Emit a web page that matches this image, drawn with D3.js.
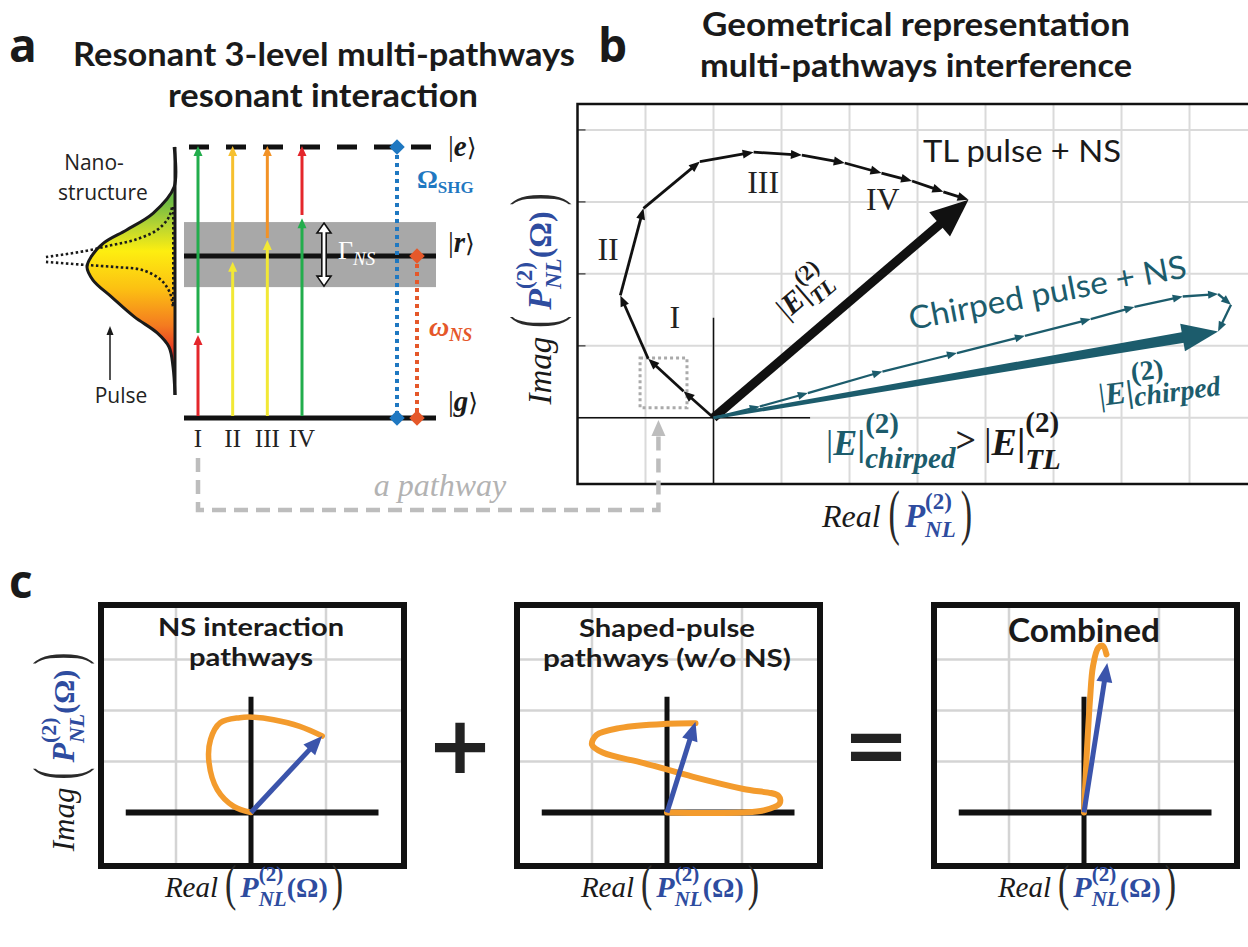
<!DOCTYPE html>
<html><head><meta charset="utf-8">
<script src="https://cdn.jsdelivr.net/npm/d3@7"></script>
<style>body{margin:0;background:#fff}svg{display:block}</style>
</head><body>
<svg id="fig" width="1248" height="947"></svg>
<script>
// ---------------- data ----------------
// panel a: energy levels (normalised energy, |g> = 0, |e> = 1)
const levelNames = ["g", "r", "e"];
const levelEnergy = [0, 0.598, 1];
const bandEnergy = [0.483, 0.723];          // NS linewidth band around |r>
const pathwayLabels = ["I", "II", "III", "IV"];
const firstPhotonTop = [0.306, 0.577, 0.657, 0.737];
const secondPhotonStart = [0.314, 0.614, 0.664, 0.749];
const firstPhotonColor = ["#e4262b", "#f2e835", "#f2e835", "#22ad4c"];
const secondPhotonColor = ["#22ad4c", "#f6c02f", "#f29226", "#e4262b"];
// pulse spectrum (amplitude, energy) and nanostructure response
const pulseAmp = [0.01, 0.01, 0.244, 0.544, 0.80, 0.944, 0.989, 0.922, 0.711, 0.456, 0.20, 0.067, 0.022, 0.0];
const pulseE   = [1.0, 0.852, 0.756, 0.694, 0.646, 0.594, 0.557, 0.509, 0.446, 0.373, 0.314, 0.262, 0.188, 0.085];
const nsUpperAmp = [1.45, 1.011, 0.711, 0.456, 0.20, 0.067, 0.033];
const nsUpperE   = [0.594, 0.616, 0.638, 0.657, 0.694, 0.742, 0.779];
const nsLowerAmp = [1.45, 1.011, 0.667, 0.367, 0.156, 0.056, 0.022];
const nsLowerE   = [0.576, 0.565, 0.557, 0.546, 0.509, 0.461, 0.41];

// panel b: cumulative pathway sums in the complex plane (Re, Im)
const tlRe = [0, -0.44, -0.96, -1.37, -1.03, -0.20, 0.59, 1.30, 1.93, 2.47, 2.92, 3.38, 3.75];
const tlIm = [0, 0.37, 0.82, 1.70, 2.91, 3.56, 3.69, 3.65, 3.54, 3.40, 3.29, 3.14, 3.03];
const chRe = [0, 0.68, 1.387, 2.484, 3.58, 4.58, 5.547, 6.19, 6.90, 7.42, 7.61, 7.42];
const chIm = [0, 0.157, 0.343, 0.643, 0.899, 1.139, 1.371, 1.54, 1.685, 1.72, 1.57, 1.20];
const romanRe = [-0.57, -1.55, 0.73, 2.49];
const romanIm = [1.25, 2.19, 3.125, 2.89];

// panel c: pathway traces
const nsRe = [0, -0.23, -0.45, -0.56, -0.54, -0.41, -0.15, 0.02, 0.30, 0.65, 0.95];
const nsIm = [0, 0.12, 0.45, 0.98, 1.43, 1.76, 1.86, 1.87, 1.82, 1.69, 1.50];
const shRe = [0, 0.58, 1.0, 1.29, 1.50, 1.49, 1.02, 0.35, -0.31, -0.85, -1.0, -0.94, -0.62, 0, 0.38];
const shIm = [0, -0.01, 0.0, 0.04, 0.17, 0.32, 0.46, 0.70, 0.97, 1.17, 1.33, 1.52, 1.66, 1.74, 1.75];
const coRe = [0, 0.035, 0.08, 0.12, 0.19, 0.25, 0.30];
const coIm = [0, 1.1, 2.21, 2.87, 3.23, 3.27, 3.10];
const nsSum = [0.95, 1.50], shSum = [0.38, 1.78], coSum = [0.31, 2.93];
const cTitles = [["NS interaction", "pathways"], ["Shaped-pulse", "pathways (w/o NS)"], ["Combined"]];

// ---------------- helpers ----------------
const svg = d3.select("#fig");
svg.append("rect").attr("width", 1248).attr("height", 947).attr("fill", "#fff");
const SERIF = "'Liberation Serif','DejaVu Serif',serif";
const SANS = "Lato,'Open Sans','DejaVu Sans',sans-serif";
const BLUE = "#2e4c9f", TEAL = "#1c5c6c", INK = "#1a1a1a";

function head(g, x1, y1, x2, y2, len, wid, color) {
  const a = Math.atan2(y2 - y1, x2 - x1), c = Math.cos(a), s = Math.sin(a);
  const bx = x2 - len * c, by = y2 - len * s;
  g.append("path")
    .attr("d", `M${x2},${y2}L${bx - s * wid / 2},${by + c * wid / 2}L${bx + s * wid / 2},${by - c * wid / 2}Z`)
    .attr("fill", color);
}
function arrow(g, x1, y1, x2, y2, o) {
  const a = Math.atan2(y2 - y1, x2 - x1);
  const ex = x2 - Math.cos(a) * o.len * 0.8, ey = y2 - Math.sin(a) * o.len * 0.8;
  g.append("line").attr("x1", x1).attr("y1", y1).attr("x2", ex).attr("y2", ey)
    .attr("stroke", o.color).attr("stroke-width", o.w);
  head(g, x1, y1, x2, y2, o.len, o.wid, o.color);
}
// lay out a run of math-like text pieces, with stacked super/subscripts
function mathRun(parent, items, o) {
  const g = parent.append("g");
  const inner = g.append("g");
  let x = 0;
  const mk = (t, xx, yy, fs, it) => {
    const e = inner.append("text")
      .attr("font-family", it.fam || SERIF).attr("font-size", fs)
      .attr("font-style", it.it ? "italic" : "normal").attr("font-weight", it.b ? "bold" : "normal")
      .attr("fill", it.fill || INK).text(t);
    if (it.sy) e.attr("x", 0).attr("y", 0).attr("transform", `translate(${xx},${yy}) scale(1,${it.sy})`);
    else e.attr("x", xx).attr("y", yy);
    return e;
  };
  items.forEach(it => {
    if (it.gap) { x += it.gap; return; }
    const fs = it.fs, dy = it.dy || 0;
    const t = mk(it.t, x, dy, fs, it);
    x += t.node().getComputedTextLength() + (it.after || 0);
    if (it.sup || it.sub) {
      const sfs = it.sfs || fs * 0.65;
      let w = 0;
      if (it.sup) { const s = mk(it.sup, x + (it.supdx || 0), dy - fs * (it.up || 0.48), sfs, Object.assign({}, it, { it: false, sy: 0 })); w = Math.max(w, s.node().getComputedTextLength() + (it.supdx || 0)); }
      if (it.sub) { const s = mk(it.sub, x, dy + fs * (it.down || 0.3), sfs, Object.assign({}, it, { it: it.subIt === undefined ? true : it.subIt, sy: 0 })); w = Math.max(w, s.node().getComputedTextLength()); }
      x += w + (it.after2 || 0);
    }
  });
  if (o.anchor === "middle") inner.attr("transform", `translate(${-x / 2},0)`);
  g.attr("transform", `translate(${o.x},${o.y})` + (o.rotate ? ` rotate(${o.rotate})` : ""));
  return g;
}
function label(parent, txt, x, y, o) {
  const t = parent.append("text").attr("x", x).attr("y", y).text(txt)
    .attr("font-family", o.fam || SANS).attr("font-size", o.fs)
    .attr("font-weight", o.b ? "bold" : "normal").attr("font-style", o.it ? "italic" : "normal")
    .attr("fill", o.fill || INK).attr("text-anchor", o.anchor || "start");
  if (o.len) t.attr("textLength", o.len).attr("lengthAdjust", "spacingAndGlyphs");
  if (o.rotate) t.attr("transform", `rotate(${o.rotate},${x},${y})`);
  return t;
}
// tall, thin brackets around the axis quantities
const paren = (t, fs, sy, dy) => ({ t, fs: fs || 36, sy: sy || 1.9, dy: dy === undefined ? 6 : dy, fill: "#2a2a2a" });

// ---------------- panel letters and titles ----------------
label(svg, "a", 9, 62, { fs: 46, b: true, fam: "'Open Sans',sans-serif" });
label(svg, "b", 598, 62, { fs: 46, b: true, fam: "'Open Sans',sans-serif" });
label(svg, "c", 9, 598, { fs: 46, b: true, fam: "'Open Sans',sans-serif" });
label(svg, "Resonant 3-level multi-pathways", 324, 66, { fs: 32, b: true, anchor: "middle", len: 502 });
label(svg, "resonant interaction", 323, 107, { fs: 32, b: true, anchor: "middle", len: 310 });
label(svg, "Geometrical representation", 916, 36, { fs: 32, b: true, anchor: "middle", len: 428 });
label(svg, "multi-pathways interference", 916, 77, { fs: 32, b: true, anchor: "middle", len: 432 });

// ---------------- panel a: level diagram ----------------
const ga = svg.append("g");
const yE = d3.scaleLinear().domain([0, 1]).range([418, 147]);
const xLev = d3.scaleLinear().domain([0, 1]).range([184, 436]);
const xPath = d3.scaleLinear().domain([0, 3]).range([198, 302]);
const xAmp = d3.scaleLinear().domain([0, 1]).range([175, 86]);

// pulse spectrum with colour gradient
const grad = svg.append("defs").append("linearGradient").attr("id", "pulseGrad")
  .attr("x1", 0).attr("y1", 0).attr("x2", 0).attr("y2", 1);
[["0%", "#3fa847"], ["22%", "#6fbb44"], ["32%", "#b9d531"], ["42%", "#fdee10"], ["57%", "#fcc112"], ["72%", "#f47b20"], ["84%", "#e52a24"], ["100%", "#e31e24"]]
  .forEach(s => grad.append("stop").attr("offset", s[0]).attr("stop-color", s[1]));
const pulsePts = pulseAmp.map((a, i) => [xAmp(a), yE(pulseE[i])]);
const pulseLine = d3.line().curve(d3.curveCatmullRom.alpha(0.5));
ga.append("path").attr("d", pulseLine(pulsePts) + "Z").attr("fill", "url(#pulseGrad)");
ga.append("path").attr("d", pulseLine(pulsePts)).attr("fill", "none").attr("stroke", INK).attr("stroke-width", 3);
ga.append("line").attr("x1", xAmp(0)).attr("x2", xAmp(0)).attr("y1", yE(1)).attr("y2", yE(0.085))
  .attr("stroke", INK).attr("stroke-width", 3);
[[nsUpperAmp, nsUpperE], [nsLowerAmp, nsLowerE]].forEach(([A, E]) => {
  ga.append("path").attr("d", pulseLine(A.map((a, i) => [xAmp(a), yE(E[i])])))
    .attr("fill", "none").attr("stroke", INK).attr("stroke-width", 2.6).attr("stroke-dasharray", "2.5,2.5");
});
ga.append("line").attr("x1", 173).attr("x2", 173).attr("y1", yE(0.779)).attr("y2", yE(0.41))
  .attr("stroke", INK).attr("stroke-width", 2).attr("stroke-dasharray", "2.5,2.5");
label(ga, "Nano-", 94, 170, { fs: 21, anchor: "middle", fam: "'Open Sans',sans-serif", fill: "#222" });
label(ga, "structure", 103, 200, { fs: 21, anchor: "middle", fam: "'Open Sans',sans-serif", fill: "#222" });
label(ga, "Pulse", 121, 403, { fs: 21, anchor: "middle", fam: "'Open Sans',sans-serif", fill: "#222" });
arrow(ga, 110, 380, 110, 326, { len: 9, wid: 7, w: 1.5, color: INK });

// band and levels
ga.append("rect").attr("x", xLev(0)).attr("width", xLev(1) - xLev(0))
  .attr("y", yE(bandEnergy[1])).attr("height", yE(bandEnergy[0]) - yE(bandEnergy[1])).attr("fill", "#a8a8a8");
levelNames.forEach((n, i) => {
  const l = ga.append("line").attr("x1", xLev(0)).attr("x2", xLev(1)).attr("y1", yE(levelEnergy[i])).attr("y2", yE(levelEnergy[i]))
    .attr("stroke", "#111").attr("stroke-width", 5);
  if (n === "e") l.attr("x1", 189).attr("stroke-dasharray", "20,17");
});
// two-photon pathways
pathwayLabels.forEach((p, i) => {
  const x = xPath(i);
  arrow(ga, x, yE(0) - 2, x, yE(firstPhotonTop[i]), { len: 10, wid: 9, w: 3, color: firstPhotonColor[i] });
  arrow(ga, x, yE(secondPhotonStart[i]), x, yE(1) - 1, { len: 10, wid: 9, w: 3, color: secondPhotonColor[i] });
  label(ga, p, x, 447, { fs: 25, fam: SERIF, anchor: "middle", fill: "#222" });
});
// linewidth double arrow
(function () {
  const x = 324, y1 = yE(bandEnergy[1]) + 1, y2 = yE(bandEnergy[0]) - 1, hw = 7, hl = 10, sw = 2.2;
  const d = `M${x},${y1}L${x + hw},${y1 + hl}L${x + sw},${y1 + hl}L${x + sw},${y2 - hl}L${x + hw},${y2 - hl}L${x},${y2}` +
    `L${x - hw},${y2 - hl}L${x - sw},${y2 - hl}L${x - sw},${y1 + hl}L${x - hw},${y1 + hl}Z`;
  ga.append("path").attr("d", d).attr("fill", "#fff").attr("stroke", "#111").attr("stroke-width", 1.6);
})();
mathRun(ga, [{ t: "Γ", fs: 26, fill: "#fff", sub: "NS", sfs: 19, down: 0.22 }], { x: 338, y: 259 });
// SHG and NS frequencies
function diamond(g, x, y, c) {
  g.append("rect").attr("x", -5.5).attr("y", -5.5).attr("width", 11).attr("height", 11).attr("fill", c)
    .attr("transform", `translate(${x},${y}) rotate(45)`);
}
ga.append("line").attr("x1", 397).attr("x2", 397).attr("y1", yE(1)).attr("y2", yE(0))
  .attr("stroke", "#1f78c1").attr("stroke-width", 4).attr("stroke-dasharray", "4,4");
ga.append("line").attr("x1", 417).attr("x2", 417).attr("y1", yE(levelEnergy[1])).attr("y2", yE(0))
  .attr("stroke", "#e5582a").attr("stroke-width", 4).attr("stroke-dasharray", "4,4");
diamond(ga, 397, yE(1), "#1f78c1"); diamond(ga, 397, yE(0), "#1f78c1");
diamond(ga, 417, yE(levelEnergy[1]), "#e5582a"); diamond(ga, 417, yE(0), "#e5582a");
mathRun(ga, [{ t: "Ω", fs: 26, b: true, fill: "#1f78c1", sub: "SHG", sfs: 17, down: 0.2, subIt: false }], { x: 417, y: 188 });
mathRun(ga, [{ t: "ω", fs: 28, b: true, it: true, fill: "#e5582a", sub: "NS", sfs: 18, down: 0.18 }], { x: 429, y: 336 });
// level kets
[["e", 156], ["r", 252], ["g", 411]].forEach(([n, y]) => {
  const t = ga.append("text").attr("x", 448).attr("y", y).attr("font-family", SERIF).attr("font-size", 29).attr("fill", "#1a1a1a");
  t.append("tspan").text("|");
  t.append("tspan").text(n).attr("font-weight", "bold").attr("font-style", "italic");
  t.append("tspan").text("⟩").attr("font-family", "'DejaVu Serif',serif").attr("font-size", 25);
});

// ---------------- panel b: complex plane ----------------
const gb = svg.append("g");
const xB = d3.scaleLinear().domain([-2, 7.86]).range([577.5, 1248]);
const yB = d3.scaleLinear().domain([-0.92, 4.36]).range([484, 104]);
d3.range(-1, 8).forEach(i => gb.append("line").attr("x1", xB(i)).attr("x2", xB(i)).attr("y1", yB(4.36)).attr("y2", yB(-0.92))
  .attr("stroke", "#dadada").attr("stroke-width", 2));
d3.range(0, 5).forEach(j => gb.append("line").attr("x1", xB(-2)).attr("x2", 1248).attr("y1", yB(j)).attr("y2", yB(j))
  .attr("stroke", "#dadada").attr("stroke-width", 2));
d3.range(1, 5).forEach(j => gb.append("line").attr("x1", xB(-2)).attr("x2", xB(-2) + 8).attr("y1", yB(j)).attr("y2", yB(j))
  .attr("stroke", "#555").attr("stroke-width", 1.5));
gb.append("rect").attr("x", xB(-2)).attr("y", yB(4.36)).attr("width", 700).attr("height", yB(-0.92) - yB(4.36))
  .attr("fill", "none").attr("stroke", "#111").attr("stroke-width", 2.5);
gb.append("line").attr("x1", xB(-2)).attr("x2", xB(1.42)).attr("y1", yB(0)).attr("y2", yB(0)).attr("stroke", "#111").attr("stroke-width", 1.5);
gb.append("line").attr("x1", xB(0)).attr("x2", xB(0)).attr("y1", yB(1.39)).attr("y2", yB(-0.92)).attr("stroke", "#111").attr("stroke-width", 1.5);

// selected single pathway
gb.append("rect").attr("x", xB(-1.08)).attr("y", yB(0.83)).attr("width", xB(-0.39) - xB(-1.08)).attr("height", yB(0.14) - yB(0.83))
  .attr("fill", "none").attr("stroke", "#aaa").attr("stroke-width", 3).attr("stroke-dasharray", "3,3");

// TL pathway chain and resulting field
for (let i = 1; i < tlRe.length; i++)
  arrow(gb, xB(tlRe[i - 1]), yB(tlIm[i - 1]), xB(tlRe[i]), yB(tlIm[i]), { len: 11, wid: 9, w: 2.8, color: "#111" });
arrow(gb, xB(0), yB(0), xB(tlRe[tlRe.length - 1]), yB(tlIm[tlIm.length - 1]), { len: 38, wid: 32, w: 9, color: "#111" });
// chirped pathway chain
for (let i = 1; i < chRe.length; i++)
  arrow(gb, xB(chRe[i - 1]), yB(chIm[i - 1]), xB(chRe[i]), yB(chIm[i]), { len: 10, wid: 8, w: 2.3, color: TEAL });
(function () {
  const x1 = xB(0), y1 = yB(0), x2 = xB(chRe[chRe.length - 1]), y2 = yB(chIm[chIm.length - 1]);
  const a = Math.atan2(y2 - y1, x2 - x1), c = Math.cos(a), s = Math.sin(a), len = 36;
  const bx = x2 - len * c * 0.85, by = y2 - len * s * 0.85;
  gb.append("path").attr("d", `M${x1 - s * 1.5},${y1 + c * 1.5}L${bx - s * 5.5},${by + c * 5.5}L${bx + s * 5.5},${by - c * 5.5}L${x1 + s * 1.5},${y1 - c * 1.5}Z`)
    .attr("fill", TEAL);
  head(gb, x1, y1, x2, y2, len, 28, TEAL);
})();

pathwayLabels.forEach((p, i) => label(gb, p, xB(romanRe[i]), yB(romanIm[i]), { fs: 32, fam: SERIF, anchor: "middle", fill: "#222" }));
label(gb, "TL pulse + NS", 1022, 162, { fs: 30, anchor: "middle", len: 198, fam: SANS, fill: "#1a1a1a" });
label(gb, "Chirped pulse + NS", 911, 330, { fs: 32, len: 282, fill: TEAL, rotate: -10.8 });
mathRun(gb, [{ t: "|", fs: 30 }, { t: "E", fs: 30, b: true, it: true }, { t: "|", fs: 30, sup: "(2)", sub: "TL", sfs: 22, b: true, up: 0.55, down: 0.3 }],
  { x: 787, y: 320, rotate: -40.6 });
mathRun(gb, [{ t: "|", fs: 32, fill: TEAL }, { t: "E", fs: 32, b: true, it: true, fill: TEAL },
  { t: "|", fs: 32, fill: TEAL, sup: "(2)", sub: "chirped", sfs: 28, b: true, up: 0.62, down: 0.15 }],
  { x: 1100, y: 406, rotate: -7.5 });
mathRun(gb, [
  { t: "|", fs: 36, fill: TEAL }, { t: "E", fs: 36, b: true, it: true, fill: TEAL },
  { t: "|", fs: 36, fill: TEAL, sup: "(2)", sub: "chirped", sfs: 29, b: true, up: 0.62, down: 0.37 },
  { t: ">", fs: 36, b: true, fill: "#222", after: 8, dy: -3 },
  { t: "|", fs: 38 }, { t: "E", fs: 38, b: true, it: true },
  { t: "|", fs: 38, sup: "(2)", sub: "TL", sfs: 29, b: true, up: 0.6, down: 0.36 }
], { x: 826, y: 455 });

// axis titles of panel b
mathRun(gb, [{ t: "Imag", fs: 33, it: true }, { gap: 9 }, paren("("), { gap: 6 },
  { t: "P", fs: 34, b: true, it: true, fill: BLUE, sup: "(2)", sub: "NL", sfs: 23, up: 0.55, down: 0.3 },
  { t: "(Ω)", fs: 32, b: true, fill: BLUE }, { gap: 6 }, paren(")")], { x: 551, y: 299, rotate: -90, anchor: "middle" });
mathRun(gb, [{ t: "Real", fs: 32, it: true }, { gap: 8 }, paren("(", 34, 1.8), { gap: 5 },
  { t: "P", fs: 33, b: true, it: true, fill: BLUE, sup: "(2)", sub: "NL", sfs: 23, up: 0.55, down: 0.3 },
  { gap: 5 }, paren(")", 34, 1.8)], { x: 897, y: 527, anchor: "middle" });

// link from a single pathway in panel a to its vector in panel b
gb.append("path").attr("d", d3.line()([[xPath(0), 458], [xPath(0), 510], [xB(-0.81), 510], [xB(-0.81), 434]]))
  .attr("fill", "none").attr("stroke", "#bdbdbd").attr("stroke-width", 4.5).attr("stroke-dasharray", "14,8");
head(gb, xB(-0.81), 445, xB(-0.81), 420, 16, 14, "#bdbdbd");
label(gb, "a pathway", 440, 496, { fs: 32, it: true, fam: SERIF, anchor: "middle", fill: "#b3b3b3" });

// ---------------- panel c: three complex-plane sketches ----------------
const boxes = [
  { ox: 251, re: nsRe, im: nsIm, sum: nsSum, title: cTitles[0], tfs: 25, tlens: [186, 124], ty: [636, 666], sw: 5.5 },
  { ox: 667, re: shRe, im: shIm, sum: shSum, title: cTitles[1], tfs: 25, tlens: [176, 248], ty: [637, 667], sw: 6 },
  { ox: 1084, re: coRe, im: coIm, sum: coSum, title: cTitles[2], tfs: 33, tlens: [152], ty: [642], sw: 6 }
];
boxes.forEach(bx => {
  const g = svg.append("g");
  const xC = d3.scaleLinear().domain([-2, 2.04]).range([bx.ox - 150, bx.ox + 153]);
  const yC = d3.scaleLinear().domain([-1.05, 4.07]).range([866, 605]);
  [-1, 1].forEach(i => g.append("line").attr("x1", xC(i)).attr("x2", xC(i)).attr("y1", yC(4.07)).attr("y2", yC(-1.05))
    .attr("stroke", "#d4d4d4").attr("stroke-width", 2.5));
  [1, 2, 3].forEach(j => g.append("line").attr("x1", xC(-2)).attr("x2", xC(2.04)).attr("y1", yC(j)).attr("y2", yC(j))
    .attr("stroke", "#d4d4d4").attr("stroke-width", 2.5));
  g.append("line").attr("x1", xC(-1.67)).attr("x2", xC(1.7)).attr("y1", yC(0)).attr("y2", yC(0)).attr("stroke", "#111").attr("stroke-width", 6);
  g.append("line").attr("x1", xC(0)).attr("x2", xC(0)).attr("y1", yC(2.27)).attr("y2", yC(-1.05)).attr("stroke", "#111").attr("stroke-width", 5);
  g.append("rect").attr("x", xC(-2)).attr("y", yC(4.07)).attr("width", xC(2.04) - xC(-2)).attr("height", yC(-1.05) - yC(4.07))
    .attr("fill", "none").attr("stroke", "#111").attr("stroke-width", 6);
  bx.title.forEach((t, k) => label(g, t, bx.ox, bx.ty[k], { fs: bx.tfs, b: true, anchor: "middle", len: bx.tlens[k] }));
  g.append("path").attr("d", d3.line().curve(d3.curveCatmullRom.alpha(0.5))(bx.re.map((r, i) => [xC(r), yC(bx.im[i])])))
    .attr("fill", "none").attr("stroke", "#f39b2d").attr("stroke-width", bx.sw).attr("stroke-linecap", "round");
  arrow(g, xC(0), yC(0), xC(bx.sum[0]), yC(bx.sum[1]), { len: 19, wid: 16, w: 5, color: "#3b54ab" });
  mathRun(g, [{ t: "Real", fs: 29, it: true }, { gap: 7 }, paren("(", 34, 1.5, 3), { gap: 4 },
    { t: "P", fs: 30, b: true, it: true, fill: BLUE, sup: "(2)", sub: "NL", sfs: 21, up: 0.55, down: 0.3 },
    { t: "(Ω)", fs: 28, b: true, fill: BLUE }, { gap: 4 }, paren(")", 34, 1.5, 3)], { x: bx.ox + 3, y: 897, anchor: "middle" });
});
mathRun(svg, [{ t: "Imag", fs: 31, it: true }, { gap: 8 }, paren("(", 36), { gap: 5 },
  { t: "P", fs: 32, b: true, it: true, fill: BLUE, sup: "(2)", sub: "NL", sfs: 22, up: 0.55, down: 0.3 },
  { t: "(Ω)", fs: 30, b: true, fill: BLUE }, { gap: 5 }, paren(")", 36)], { x: 74, y: 752, rotate: -90, anchor: "middle" });
label(svg, "+", 460, 773, { fs: 80, b: true, anchor: "middle", fam: "'DejaVu Sans',sans-serif", fill: "#222" });
label(svg, "=", 876, 773, { fs: 80, b: true, anchor: "middle", fam: "'DejaVu Sans',sans-serif", fill: "#222" });
</script>
</body></html>
